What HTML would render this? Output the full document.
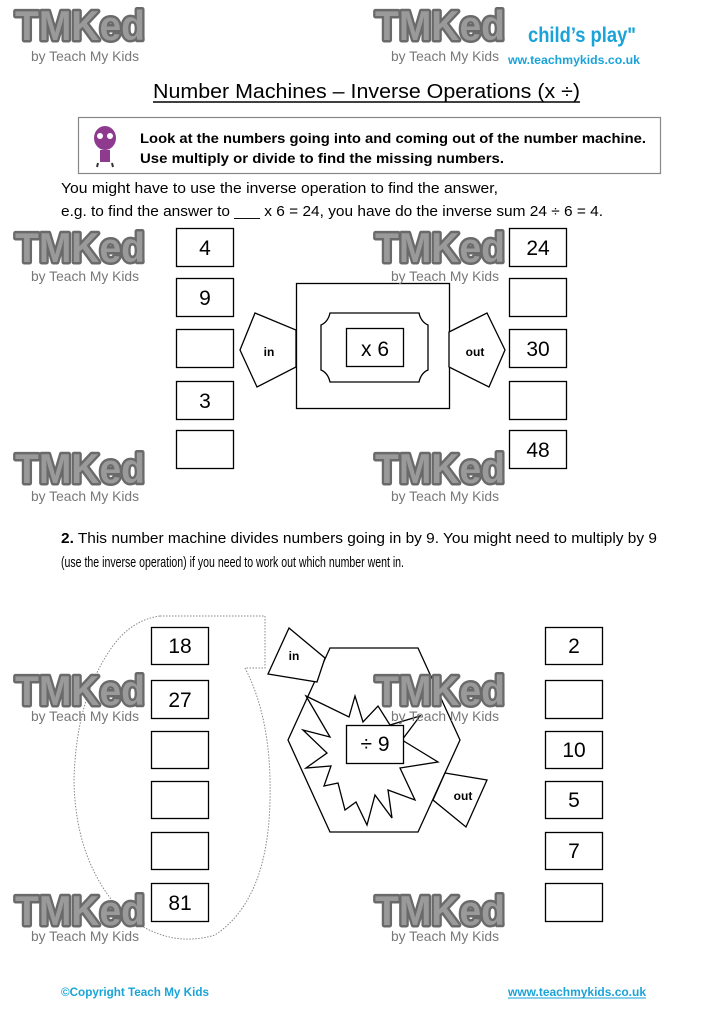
<!DOCTYPE html>
<html><head><meta charset="utf-8"><style>
html,body{margin:0;padding:0;background:#fff;}
svg{display:block;}
</style></head><body>
<svg width="723" height="1024" viewBox="0 0 723 1024" xmlns="http://www.w3.org/2000/svg" font-family="Liberation Sans, sans-serif">
<!-- header right tagline -->
<text x="528" y="42" font-size="21" font-weight="bold" fill="#1aa3d8" textLength="108" lengthAdjust="spacingAndGlyphs">child’s play"</text>
<text x="508" y="64" font-size="12" font-weight="bold" fill="#1aa3d8" textLength="132" lengthAdjust="spacingAndGlyphs">ww.teachmykids.co.uk</text>

<!-- title -->
<text x="153" y="98" font-size="20" fill="#000" textLength="427" lengthAdjust="spacingAndGlyphs">Number Machines – Inverse Operations (x ÷)</text>
<line x1="153" y1="102" x2="580" y2="102" stroke="#000" stroke-width="1.5"/>

<!-- instruction box -->
<rect x="78.5" y="117.5" width="582" height="56" fill="#fff" stroke="#888" stroke-width="1.2"/>
<ellipse cx="105" cy="138" rx="11" ry="12" fill="#8e3a8e"/>
<circle cx="100" cy="136" r="3" fill="#fff"/><circle cx="110" cy="136" r="3" fill="#fff"/>
<rect x="100" y="150" width="10" height="12" fill="#8e3a8e"/>
<line x1="98" y1="163" x2="97" y2="167" stroke="#333" stroke-width="2"/><line x1="112" y1="163" x2="113" y2="167" stroke="#333" stroke-width="2"/>
<text x="140" y="143" font-size="14" font-weight="bold" textLength="506" lengthAdjust="spacingAndGlyphs">Look at the numbers going into and coming out of the number machine.</text>
<text x="140" y="163" font-size="14" font-weight="bold" textLength="364" lengthAdjust="spacingAndGlyphs">Use multiply or divide to find the missing numbers.</text>

<text x="61" y="193" font-size="15" textLength="437" lengthAdjust="spacingAndGlyphs">You might have to use the inverse operation to find the answer,</text>
<text x="61" y="216" font-size="15" textLength="542" lengthAdjust="spacingAndGlyphs">e.g. to find the answer to ___ x 6 = 24, you have do the inverse sum 24 ÷ 6 = 4.</text>

<!-- part 1 boxes -->
<g fill="#fff" stroke="#000" stroke-width="1.3">
<rect x="176.5" y="228.5" width="57" height="38"/>
<rect x="176.5" y="278.5" width="57" height="38"/>
<rect x="176.5" y="329.5" width="57" height="38"/>
<rect x="176.5" y="381.5" width="57" height="38"/>
<rect x="176.5" y="430.5" width="57" height="38"/>
<rect x="509.5" y="228.5" width="57" height="38"/>
<rect x="509.5" y="278.5" width="57" height="38"/>
<rect x="509.5" y="329.5" width="57" height="38"/>
<rect x="509.5" y="381.5" width="57" height="38"/>
<rect x="509.5" y="430.5" width="57" height="38"/>
<rect x="296.5" y="283.5" width="153" height="125"/>
<path d="M330,313 H419 Q421,322 428,325 V370 Q421,373 419,382 H330 Q328,373 321,370 V325 Q328,322 330,313 Z"/>
<rect x="346.5" y="328.5" width="57" height="38"/>
<polygon points="255,313 296,330 296,367 257,387 240,350"/>
<polygon points="449,332 487,313 505,350 489,387 449,367"/>
</g>
<g font-size="21" text-anchor="middle">
<text x="205" y="255">4</text><text x="205" y="305">9</text><text x="205" y="408">3</text>
<text x="538" y="255">24</text><text x="538" y="356">30</text><text x="538" y="457">48</text>
<text x="375" y="356">x 6</text>
</g>
<text x="269" y="356" font-size="12" font-weight="bold" text-anchor="middle">in</text>
<text x="475" y="356" font-size="12" font-weight="bold" text-anchor="middle">out</text>

<!-- part 2 text -->
<text x="61" y="543" font-size="14.5" textLength="596" lengthAdjust="spacingAndGlyphs"><tspan font-weight="bold">2.</tspan>  This number machine divides numbers going in by 9.  You might need to multiply by 9</text>
<text x="61" y="567" font-size="14.5" textLength="343" lengthAdjust="spacingAndGlyphs">(use the inverse operation) if you need to work out which number went in.</text>

<!-- dotted outline -->
<path d="M160,616 H265 V668 H245 Q272,720 270,800 Q268,900 215,935 Q165,950 120,910 Q75,860 74,780 Q76,700 110,650 Q130,620 160,616 Z" fill="none" stroke="#888" stroke-width="1" stroke-dasharray="1.5,1.5"/>

<g fill="#fff" stroke="#000" stroke-width="1.3">
<rect x="151.5" y="627.5" width="57" height="37"/>
<rect x="151.5" y="680.5" width="57" height="38"/>
<rect x="151.5" y="731.5" width="57" height="37"/>
<rect x="151.5" y="781.5" width="57" height="37"/>
<rect x="151.5" y="832.5" width="57" height="37"/>
<rect x="151.5" y="883.5" width="57" height="38"/>
<rect x="545.5" y="627.5" width="57" height="37"/>
<rect x="545.5" y="680.5" width="57" height="38"/>
<rect x="545.5" y="731.5" width="57" height="37"/>
<rect x="545.5" y="781.5" width="57" height="37"/>
<rect x="545.5" y="832.5" width="57" height="37"/>
<rect x="545.5" y="883.5" width="57" height="38"/>
<polygon points="330,648 418,648 460,740 418,832 330,832 288,740"/>
<polygon points="306,696 349,717 355,696 363,722 378,706 390,725 420,716 402,740 438,762 400,768 415,800 388,790 392,818 375,795 367,825 356,802 345,810 338,783 324,786 331,766 306,768 327,753 303,730 330,737"/>
<rect x="346.5" y="725.5" width="57" height="38"/>
<polygon points="289,628 325,658 317,682 268,674"/>
<polygon points="445,773 487,780 466,827 433,800"/>
</g>
<g font-size="21" text-anchor="middle">
<text x="180" y="653">18</text><text x="180" y="707">27</text><text x="180" y="910">81</text>
<text x="574" y="653">2</text><text x="574" y="757">10</text><text x="574" y="807">5</text><text x="574" y="858">7</text>
<text x="375" y="751">÷ 9</text>
</g>
<text x="294" y="660" font-size="12" font-weight="bold" text-anchor="middle">in</text>
<text x="463" y="800" font-size="12" font-weight="bold" text-anchor="middle">out</text>

<!-- watermarks -->
<g font-weight="bold" font-size="42" fill="#9a9a9a" stroke="#6a6a6a" stroke-width="5" stroke-linejoin="round" paint-order="stroke">
<text x="15" y="40" textLength="130" lengthAdjust="spacingAndGlyphs">TMKed</text>
<text x="375" y="40" textLength="130" lengthAdjust="spacingAndGlyphs">TMKed</text>
<text x="15" y="262" textLength="130" lengthAdjust="spacingAndGlyphs">TMKed</text>
<text x="375" y="262" textLength="130" lengthAdjust="spacingAndGlyphs">TMKed</text>
<text x="15" y="483" textLength="130" lengthAdjust="spacingAndGlyphs">TMKed</text>
<text x="375" y="483" textLength="130" lengthAdjust="spacingAndGlyphs">TMKed</text>
<text x="15" y="705" textLength="130" lengthAdjust="spacingAndGlyphs">TMKed</text>
<text x="375" y="705" textLength="130" lengthAdjust="spacingAndGlyphs">TMKed</text>
<text x="15" y="925" textLength="130" lengthAdjust="spacingAndGlyphs">TMKed</text>
<text x="375" y="925" textLength="130" lengthAdjust="spacingAndGlyphs">TMKed</text>
</g>
<g font-size="14" fill="#777">
<text x="31" y="61" textLength="108" lengthAdjust="spacingAndGlyphs">by Teach My Kids</text>
<text x="391" y="61" textLength="108" lengthAdjust="spacingAndGlyphs">by Teach My Kids</text>
<text x="31" y="281" textLength="108" lengthAdjust="spacingAndGlyphs">by Teach My Kids</text>
<text x="391" y="281" textLength="108" lengthAdjust="spacingAndGlyphs">by Teach My Kids</text>
<text x="31" y="501" textLength="108" lengthAdjust="spacingAndGlyphs">by Teach My Kids</text>
<text x="391" y="501" textLength="108" lengthAdjust="spacingAndGlyphs">by Teach My Kids</text>
<text x="31" y="721" textLength="108" lengthAdjust="spacingAndGlyphs">by Teach My Kids</text>
<text x="391" y="721" textLength="108" lengthAdjust="spacingAndGlyphs">by Teach My Kids</text>
<text x="31" y="941" textLength="108" lengthAdjust="spacingAndGlyphs">by Teach My Kids</text>
<text x="391" y="941" textLength="108" lengthAdjust="spacingAndGlyphs">by Teach My Kids</text>
</g>

<!-- footer -->
<text x="61" y="996" font-size="12" font-weight="bold" fill="#1aa3d8" textLength="148" lengthAdjust="spacingAndGlyphs">©Copyright Teach My Kids</text>
<text x="508" y="996" font-size="12" font-weight="bold" fill="#1aa3d8" textLength="138" lengthAdjust="spacingAndGlyphs">www.teachmykids.co.uk</text>
<line x1="508" y1="998" x2="646" y2="998" stroke="#1aa3d8" stroke-width="1"/>
</svg>
</body></html>
